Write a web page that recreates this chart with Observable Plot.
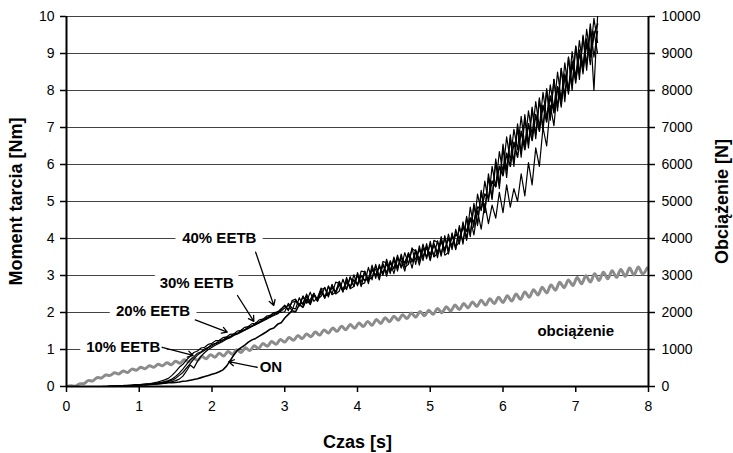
<!DOCTYPE html>
<html><head><meta charset="utf-8">
<script src="https://cdn.jsdelivr.net/npm/d3@7"></script>
<script src="https://cdn.jsdelivr.net/npm/@observablehq/plot@0.6"></script>
<style>body{margin:0;background:#fff}</style>
</head><body><div id="chart"></div>
<script>
// Axis ticks
const xTicks = [0, 1, 2, 3, 4, 5, 6, 7, 8];
const yTicks = [0, 1, 2, 3, 4, 5, 6, 7, 8, 9, 10];
const gridLevels = [1, 2, 3, 4, 5, 6, 7, 8, 9, 10];

// Friction torque [Nm], sampled from t = 0.5 s every 0.05 s
const fricStart = 0.5, fricStep = 0.05;
const momentON = [0,0,0,0,0,0.01,0.01,0.02,0.02,0.03,0.04,0.05,0.05,0.06,0.07,0.07,0.08,0.09,0.1,
 0.1,0.11,0.12,0.14,0.15,0.17,0.19,0.21,0.24,0.27,0.3,0.33,0.36,0.4,0.45,0.55,0.7,0.85,0.98,1.05,1.12,1.2,1.26,1.3,1.36,1.42,1.48,1.55,1.58,1.68,1.72,
 1.85,1.95,2.05,2.02,2.22,2.14,2.36,2.22,2.48,2.32,
 2.56,2.44,2.50,2.68,2.54,2.76,2.60,2.82,2.70,2.88,
 2.76,3.00,2.86,2.92,3.16,3.00,3.24,3.06,3.32,3.14,
 3.42,3.22,3.48,3.34,3.58,3.40,3.45,3.70,3.50,3.76,
 3.56,3.84,3.62,3.92,3.70,4.00,3.80,4.12,4.00,4.30,
 4.20,4.55,4.45,4.85,4.80,5.20,5.10,5.55,5.40,5.95,
 5.70,6.30,5.95,6.60,6.20,6.90,6.40,7.10,6.65,7.35,
 6.90,7.60,7.15,7.85,7.40,8.10,7.70,8.40,8.00,8.70,
 8.30,9.00,8.60,9.25,8.90,9.50,9.80];
const moment10 = [0,0,0,0,0.01,0.01,0.01,0.02,0.02,0.03,0.03,0.04,0.04,0.05,0.06,0.07,0.08,0.09,0.11,
 0.13,0.16,0.2,0.28,0.42,0.58,0.5,0.68,0.82,0.92,1.0,1.06,1.12,1.17,1.22,1.28,1.32,1.38,1.42,1.47,1.52,1.57,1.62,1.67,1.72,1.77,1.82,1.87,1.92,1.96,2.04,
 2.12,2.20,2.05,2.32,2.22,2.26,2.45,2.28,2.50,2.36,
 2.44,2.68,2.46,2.74,2.55,2.84,2.62,2.66,2.96,2.72,
 3.00,2.82,3.12,2.88,2.95,3.26,2.98,3.30,3.08,3.40,
 3.18,3.48,3.26,3.30,3.62,3.36,3.70,3.44,3.75,3.50,
 3.85,3.52,3.94,3.58,4.02,3.68,4.12,3.78,3.90,4.35,
 3.95,4.55,4.10,4.75,4.25,4.95,4.40,4.90,4.55,5.25,
 4.70,5.45,4.85,5.35,5.00,5.75,5.15,6.05,5.45,6.45,
 5.95,7.00,6.50,7.60,7.05,8.10,7.55,8.45,7.90,8.80,
 8.20,9.10,8.45,9.40,8.70,9.60,9.00];
const moment20 = [0,0,0.01,0.01,0.01,0.02,0.02,0.02,0.03,0.04,0.04,0.05,0.06,0.06,0.07,0.09,0.1,0.12,0.14,
 0.17,0.22,0.3,0.38,0.5,0.62,0.74,0.85,0.92,0.98,1.05,1.1,1.16,1.2,1.25,1.3,1.34,1.4,1.43,1.49,1.53,1.58,1.64,1.68,1.75,1.78,1.86,1.88,1.97,1.98,2.08,
 2.20,2.08,2.28,2.30,2.18,2.42,2.25,2.35,2.52,2.32,
 2.58,2.38,2.70,2.48,2.55,2.84,2.58,2.90,2.64,2.70,
 3.02,2.70,3.10,2.78,3.18,3.16,2.88,3.32,2.98,3.36,
 3.05,3.44,3.40,3.12,3.58,3.20,3.65,3.28,3.70,3.78,
 3.40,3.88,3.48,3.98,3.55,3.62,4.10,3.72,4.30,3.90,
 4.55,4.10,4.90,4.40,5.25,4.70,5.65,5.05,6.05,5.35,
 6.45,5.65,6.70,5.95,7.00,6.20,7.25,6.45,7.50,6.70,
 7.75,6.90,8.00,7.20,8.30,7.45,8.60,7.70,8.90,8.00,
 9.20,8.30,9.45,8.55,9.70,8.00,10.0];
const moment30 = [0,0,0,0.01,0.01,0.02,0.02,0.03,0.03,0.04,0.04,0.05,0.06,0.07,0.08,0.09,0.11,0.13,0.16,
 0.2,0.27,0.36,0.47,0.6,0.72,0.8,0.9,0.94,1.02,1.06,1.14,1.17,1.24,1.26,1.33,1.35,1.42,1.44,1.52,1.53,1.62,1.63,1.72,1.73,1.82,1.83,1.92,1.93,2.03,2.0,
 2.02,2.25,2.12,2.10,2.40,2.20,2.50,2.26,2.52,2.30,
 2.62,2.66,2.42,2.76,2.50,2.58,2.90,2.62,2.96,2.70,
 3.08,2.76,2.80,3.22,2.88,3.30,2.95,3.38,3.34,3.05,
 3.50,3.12,3.58,3.22,3.30,3.75,3.30,3.80,3.40,3.86,
 3.42,3.95,3.90,3.52,4.08,3.58,4.15,3.70,4.35,3.85,
 4.60,4.05,4.95,4.35,5.30,4.70,5.75,5.10,6.15,5.45,
 6.55,5.85,6.80,6.05,7.10,6.30,7.35,6.55,7.55,6.80,
 7.80,7.00,8.05,7.30,8.30,7.55,8.60,7.85,8.90,8.15,
 9.20,8.45,9.50,8.70,9.80,8.90,9.60];
const moment40 = [0,0,0.01,0.01,0.02,0.02,0.03,0.03,0.04,0.05,0.05,0.06,0.07,0.08,0.1,0.12,0.15,0.18,0.22,
 0.3,0.4,0.52,0.6,0.72,0.82,0.92,0.96,1.04,1.06,1.14,1.17,1.24,1.25,1.32,1.34,1.41,1.42,1.5,1.52,1.6,1.62,1.7,1.71,1.8,1.82,1.9,1.92,2.0,2.01,2.1,
 2.18,2.05,2.32,2.36,2.18,2.45,2.28,2.55,2.30,2.40,
 2.66,2.40,2.72,2.50,2.82,2.78,2.55,2.95,2.66,3.02,
 2.72,3.12,3.10,2.85,3.28,2.92,3.30,3.00,3.44,3.12,
 3.20,3.55,3.20,3.62,3.30,3.72,3.66,3.38,3.85,3.45,
 3.92,3.50,3.60,4.05,3.62,4.12,3.70,4.25,3.85,4.45,
 4.00,4.85,4.30,5.20,4.75,5.55,5.00,5.95,5.40,6.35,
 5.80,6.75,6.10,6.95,6.40,7.30,6.50,7.45,6.80,7.70,
 7.00,7.95,7.25,8.15,7.50,8.50,7.75,8.75,8.00,9.05,
 8.35,9.35,8.65,9.65,8.95,9.95,9.30];

// Load [N], sampled from t = 0 s every 0.06 s (peaks and troughs)
const loadStart = 0, loadStep = 0.06;
const loadN = [0,20,10,70,80,160,150,240,230,310,300,370,340,420,380,470,440,520,480,560,520,600,560,640,590,680,630,720,670,770,710,810,750,860,790,900,825,945,870,995,920,1045,970,1100,1030,1160,1090,1215,1140,1270,1200,1325,1250,1375,1295,1420,1345,1470,1390,1530,1445,1580,1490,1630,1535,1675,1575,1715,1620,1760,1655,1810,1705,1860,1750,1900,1790,1940,1835,1985,1875,2025,1910,2060,1950,2110,1995,2155,2040,2200,2080,2240,2125,2285,2165,2330,2200,2370,2240,2410,2270,2450,2310,2500,2355,2555,2415,2615,2475,2680,2530,2745,2600,2815,2670,2880,2730,2945,2780,2995,2825,3045,2865,3090,2910,3130,2950,3165,2980,3200,3015,3230,3040,3200];

// Annotations (data coordinates)
const labelText = ["40% EETB", "30% EETB", "20% EETB", "10% EETB", "ON", "obciążenie"];
const labelX = [2.1, 1.79, 1.19, 0.78, 2.81, 7.0];
const labelY = [4.0, 2.78, 2.04, 1.06, 0.52, 1.49];
const arrowX1 = [2.6, 2.35, 1.77, 1.315, 2.62];
const arrowY1 = [3.63, 2.46, 1.80, 1.06, 0.52];
const arrowX2 = [2.85, 2.575, 2.21, 1.74, 2.23];
const arrowY2 = [2.19, 1.76, 1.47, 0.84, 0.67];

const toRows = (name, vals, start, step) => vals.map((v, i) => ({name, t: +(start + i * step).toFixed(3), v}));
const eetbRows = [
  ...toRows("10% EETB", moment10, fricStart, fricStep),
  ...toRows("20% EETB", moment20, fricStart, fricStep),
  ...toRows("30% EETB", moment30, fricStart, fricStep),
  ...toRows("40% EETB", moment40, fricStart, fricStep)
];
const onRows = toRows("ON", momentON, fricStart, fricStep);
const loadRows = toRows("obciążenie", loadN, loadStart, loadStep);
const labels = labelText.map((text, i) => ({text, x: labelX[i], y: labelY[i]}));
const arrows = arrowX1.map((x1, i) => ({x1, y1: arrowY1[i], x2: arrowX2[i], y2: arrowY2[i]}));

const chart = Plot.plot({
  width: 733,
  height: 453,
  marginLeft: 66,
  marginRight: 85,
  marginTop: 16,
  marginBottom: 67,
  x: {domain: [0, 8]},
  y: {domain: [0, 10]},
  style: {fontFamily: '"Liberation Sans", Arial, sans-serif', fontSize: "14px", color: "#000", background: "#fff", overflow: "visible"},
  marks: [
    Plot.ruleY(gridLevels, {stroke: "#444", strokeWidth: 1}),
    Plot.text(labels, {x: "x", y: "y", text: "text", fontWeight: "bold", fontSize: 15, fill: "#000", stroke: "#fff", strokeWidth: 14}),
    Plot.line(loadRows, {x: "t", y: d => d.v / 1000, stroke: "#8c8c8c", strokeWidth: 3, curve: "catmull-rom", clip: true}),
    Plot.line(eetbRows, {x: "t", y: "v", z: "name", stroke: "#000", strokeWidth: 1.2, clip: true}),
    Plot.line(onRows, {x: "t", y: "v", stroke: "#000", strokeWidth: 1.6, clip: true}),
    Plot.arrow(arrows, {x1: "x1", y1: "y1", x2: "x2", y2: "y2", stroke: "#000", strokeWidth: 1.3, headLength: 7}),
    Plot.ruleX([0], {stroke: "#000", strokeWidth: 2}),
    Plot.ruleX([8], {stroke: "#000", strokeWidth: 2}),
    Plot.ruleY([0], {stroke: "#000", strokeWidth: 2}),
    Plot.axisY(yTicks, {anchor: "left", tickSize: 6, tickPadding: 6, strokeWidth: 1.5, label: null}),
    Plot.axisY(yTicks, {anchor: "right", tickSize: 6, tickPadding: 7, strokeWidth: 1.5, label: null, tickFormat: d => String(d * 1000)}),
    Plot.axisX(xTicks, {anchor: "bottom", tickSize: 6, tickPadding: 9, strokeWidth: 1.5, label: null}),
    Plot.text(["Moment tarcia [Nm]"], {frameAnchor: "left", dx: -50, rotate: -90, textAnchor: "middle", lineAnchor: "middle", fontWeight: "bold", fontSize: 18}),
    Plot.text(["Obciążenie [N]"], {frameAnchor: "right", dx: 74, rotate: -90, textAnchor: "middle", lineAnchor: "middle", fontWeight: "bold", fontSize: 18}),
    Plot.text(["Czas [s]"], {frameAnchor: "bottom", dy: 56, textAnchor: "middle", lineAnchor: "middle", fontWeight: "bold", fontSize: 18})
  ]
});
document.getElementById("chart").append(chart);
</script>
</body></html>
